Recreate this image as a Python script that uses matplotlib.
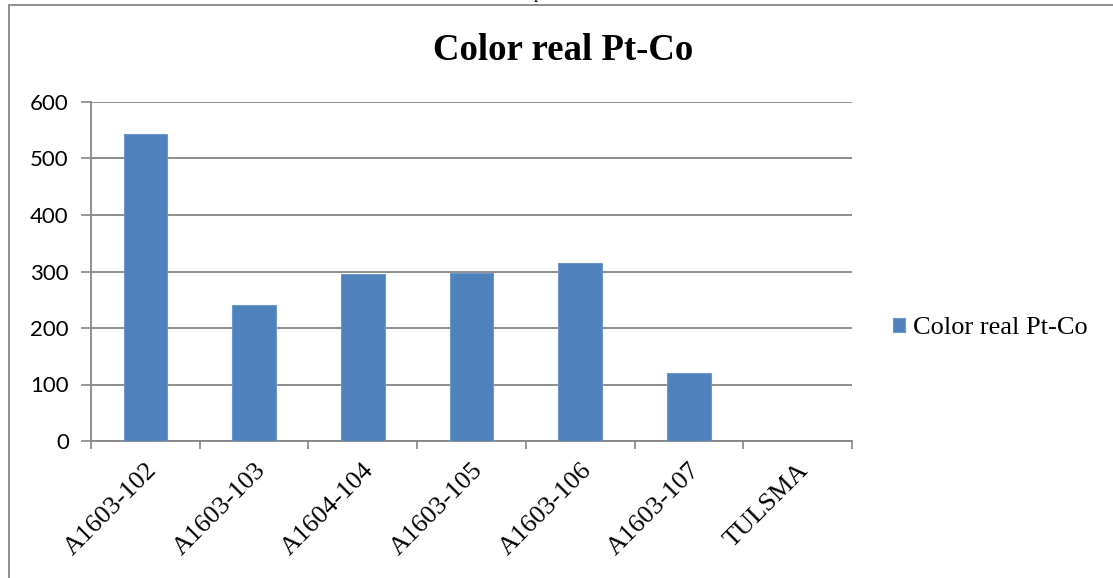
import matplotlib
matplotlib.use("Agg")
import matplotlib.pyplot as plt
from matplotlib.patches import Rectangle

categories = ["A1603-102", "A1603-103", "A1604-104", "A1603-105",
              "A1603-106", "A1603-107", "TULSMA"]
values = [544, 240, 295, 297, 315, 121, 0]
series_name = "Color real Pt-Co"
y_ticks = [0, 100, 200, 300, 400, 500, 600]

W, H = 1113, 578
fig = plt.figure(figsize=(W / 100, H / 100), dpi=100)

# outer frame of the chart object
fig.patches.append(Rectangle((9 / W, -0.05), 1.2, 1 - 5 / H + 0.05,
                             transform=fig.transFigure, fill=False,
                             edgecolor="#868686", linewidth=1.3))
# bit of the surrounding page text above the frame
fig.text(538 / W, 1 + 1.5 / H, "p", family="Liberation Serif", fontsize=12,
         ha="center", va="baseline")

ax = fig.add_axes([91 / W, 1 - 441 / H, (852 - 91) / W, (441 - 102) / H])
x = list(range(len(categories)))
bars = ax.bar(x, values, width=0.4, color="#4F81BD", edgecolor="#6F97CB",
              linewidth=0.8, zorder=3, label=series_name)

ax.set_xlim(-0.5, len(categories) - 0.5)
ax.set_ylim(0, 600)
ax.set_yticks(y_ticks)
ax.set_yticklabels([str(v) for v in y_ticks], family="Lato", fontsize=16,
                   color="#000000")
ax.yaxis.grid(True, color="#868686", linewidth=1.3, zorder=0)
ax.tick_params(axis="y", length=7, width=1.2, color="#868686", pad=9)

ax.set_xticks(x)
ax.set_xticklabels(categories, family="Liberation Serif", fontsize=19,
                   rotation=45, ha="right", va="top", rotation_mode="anchor")
ax.tick_params(axis="x", which="major", length=0, pad=13)
ax.set_xticks([i - 0.5 for i in range(len(categories) + 1)], minor=True)
ax.tick_params(axis="x", which="minor", length=6, width=1.2, color="#868686")

for s in ["top", "right"]:
    ax.spines[s].set_visible(False)
for s in ["left", "bottom"]:
    ax.spines[s].set_color("#868686")
    ax.spines[s].set_linewidth(1.3)

fig.text(563 / W, 1 - 60 / H, series_name, family="Liberation Serif",
         fontweight="bold", fontsize=26.5, ha="center", va="baseline")

leg = fig.legend(handles=[bars], labels=[series_name], loc="center left",
                 bbox_to_anchor=(893 / W, 1 - 328 / H), frameon=False,
                 prop={"family": "Liberation Serif", "size": 19},
                 handlelength=0.45, handleheight=0.45, handletextpad=0.3,
                 borderaxespad=0, borderpad=0)

fig.savefig("out.png", dpi=100)
